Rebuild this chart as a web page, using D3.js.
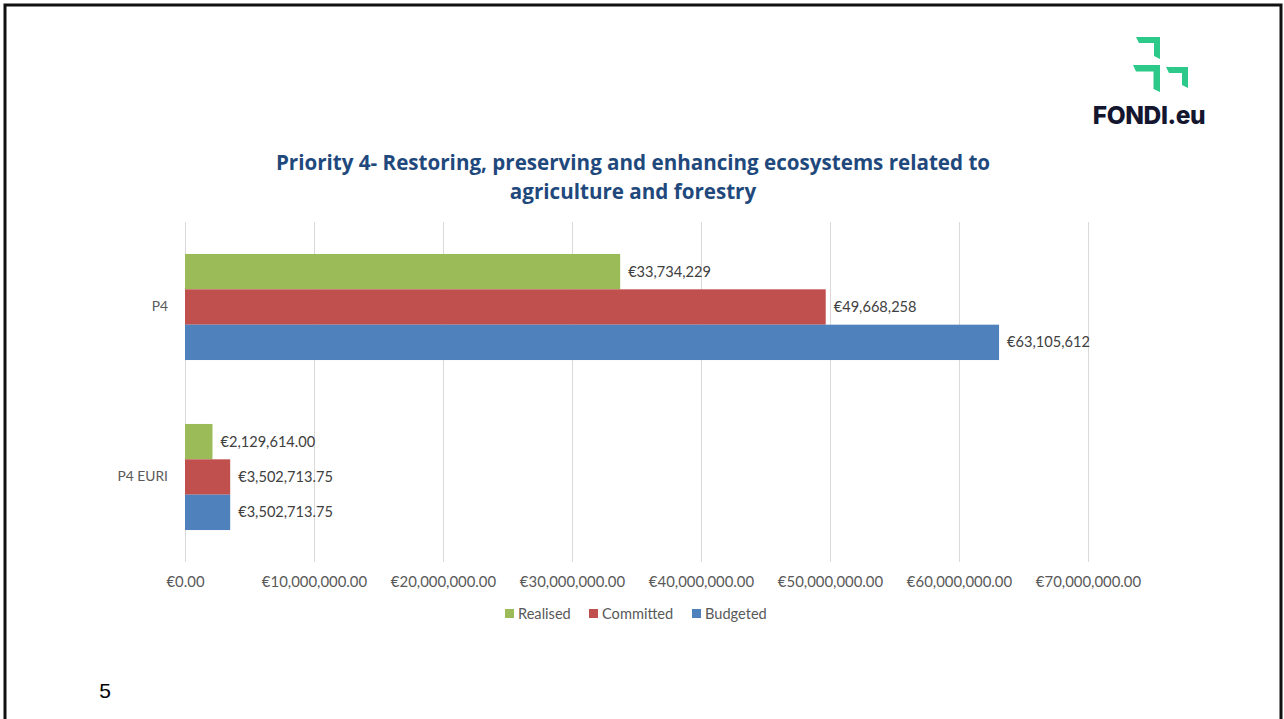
<!DOCTYPE html>
<html>
<head>
<meta charset="utf-8">
<script src="https://cdn.jsdelivr.net/npm/d3@7"></script>
<style>
  html, body { margin: 0; padding: 0; background: #fff; }
  svg { display: block; }
</style>
</head>
<body>
<svg id="chart" width="1284" height="719"></svg>
<script>
// ---- data ----
const categories = ["P4", "P4 EURI"];
const seriesNames = ["Realised", "Committed", "Budgeted"];
const realised  = [33734229, 2129614.00];
const committed = [49668258, 3502713.75];
const budgeted  = [63105612, 3502713.75];
const labelDecimals = [0, 2];
const tickValues = [0, 10000000, 20000000, 30000000, 40000000, 50000000, 60000000, 70000000];
const titleLines = ["Priority 4- Restoring, preserving and enhancing ecosystems related to", "agriculture and forestry"];
const pageNumber = "5";
const colors = ["#9BBB59", "#C0504D", "#4F81BD"];

const seriesValues = [realised, committed, budgeted];

const svg = d3.select("#chart");
const W = 1284, H = 719;

// slide background + border
svg.append("rect").attr("x", 0).attr("y", 0).attr("width", W).attr("height", H).attr("fill", "#fff");
svg.append("path")
  .attr("d", `M5,${H} L5,5 L1281,5 L1281,${H}`)
  .attr("fill", "none").attr("stroke", "#111").attr("stroke-width", 3);

// logo
const logo = svg.append("g").attr("fill", "#2CC98A");
const chevron = (x0, x1, y0, y1, t) =>
  `M${x0},${y0} L${x1},${y0} L${x1},${y1} L${x1 - t},${y1 - 3} L${x1 - t},${y0 + t} L${x0 + 3},${y0 + t} Z`;
logo.append("path").attr("d", chevron(1136, 1160, 37, 59, 6));
logo.append("path").attr("d", chevron(1133, 1160, 65, 92, 6.5));
logo.append("path").attr("d", chevron(1166, 1188, 67, 88, 6));
svg.append("text").attr("x", 1149).attr("y", 123.5).attr("text-anchor", "middle")
  .attr("font-family", "Inter, 'Open Sans', sans-serif").attr("font-weight", 800)
  .attr("font-size", 24.5).attr("fill", "#14152E").attr("letter-spacing", -0.4).text("FONDI.eu");

// title
const title = svg.append("text").attr("text-anchor", "middle")
  .attr("font-family", "'Open Sans', Lato, sans-serif").attr("font-weight", 700)
  .attr("font-size", 20.6).attr("fill", "#1F497D");
titleLines.forEach((t, i) => {
  title.append("tspan").attr("x", 633).attr("y", 169.5 + i * 29).text(t);
});

// scales
const x = d3.scaleLinear().domain([0, 70000000]).range([185, 1088]);
const y0 = d3.scaleBand().domain(categories).range([222, 562]).paddingInner(0.376).paddingOuter(0.188);
const y1 = d3.scaleBand().domain(seriesNames).range([0, y0.bandwidth()]);

const loc = d3.formatLocale({ decimal: ".", thousands: ",", grouping: [3], currency: ["€", ""] });
const tickFmt = loc.format("$,.2f");
const FS = 14.6;

// gridlines
svg.append("g").selectAll("line").data(tickValues).join("line")
  .attr("x1", d => x(d)).attr("x2", d => x(d))
  .attr("y1", 222).attr("y2", 562)
  .attr("stroke", "#D9D9D9").attr("stroke-width", 1)
  .attr("shape-rendering", "crispEdges");

// x axis labels
const xAxis = d3.axisBottom(x).tickValues(tickValues).tickFormat(tickFmt).tickSize(0).tickPadding(0);
const gx = svg.append("g").attr("transform", "translate(0,576)").call(xAxis);
gx.select(".domain").remove();
gx.selectAll("text").attr("font-family", "Lato, sans-serif").attr("font-size", FS + 0.3)
  .attr("fill", "#595959").attr("dy", "0.71em");

// y axis labels
const yAxis = d3.axisLeft(y0).tickSize(0).tickPadding(17);
const gy = svg.append("g").attr("transform", "translate(185,0)").call(yAxis);
gy.select(".domain").remove();
gy.selectAll("text").attr("font-family", "Lato, sans-serif").attr("font-size", 13.8).attr("fill", "#595959");

// bars
const rows = [];
categories.forEach((c, ci) => {
  seriesNames.forEach((s, si) => {
    rows.push({ c, ci, s, si, v: seriesValues[si][ci] });
  });
});
const bars = svg.append("g");
bars.selectAll("rect").data(rows).join("rect")
  .attr("x", x(0))
  .attr("y", d => y0(d.c) + y1(d.s))
  .attr("width", d => x(d.v) - x(0))
  .attr("height", y1.bandwidth())
  .attr("fill", d => colors[d.si]);

// data labels
bars.selectAll("text").data(rows).join("text")
  .attr("x", d => x(d.v) + 8)
  .attr("y", d => y0(d.c) + y1(d.s) + y1.bandwidth() / 2)
  .attr("dy", "0.35em")
  .attr("font-family", "Lato, sans-serif").attr("font-size", FS).attr("fill", "#404040")
  .text(d => loc.format(`$,.${labelDecimals[d.ci]}f`)(d.v));

// legend
const legendX = [505, 589, 692];
const lg = svg.append("g").selectAll("g").data(seriesNames).join("g")
  .attr("transform", (d, i) => `translate(${legendX[i]},609)`);
lg.append("rect").attr("width", 9).attr("height", 9).attr("fill", (d, i) => colors[i]);
lg.append("text").attr("x", 13).attr("y", 4.5).attr("dy", "0.35em")
  .attr("font-family", "Lato, sans-serif").attr("font-size", FS).attr("fill", "#595959")
  .text(d => d);

// page number
svg.append("text").attr("x", 105).attr("y", 698).attr("text-anchor", "middle")
  .attr("font-family", "'Liberation Sans', Arial, sans-serif").attr("font-size", 21)
  .attr("fill", "#000").text(pageNumber);
</script>
</body>
</html>
